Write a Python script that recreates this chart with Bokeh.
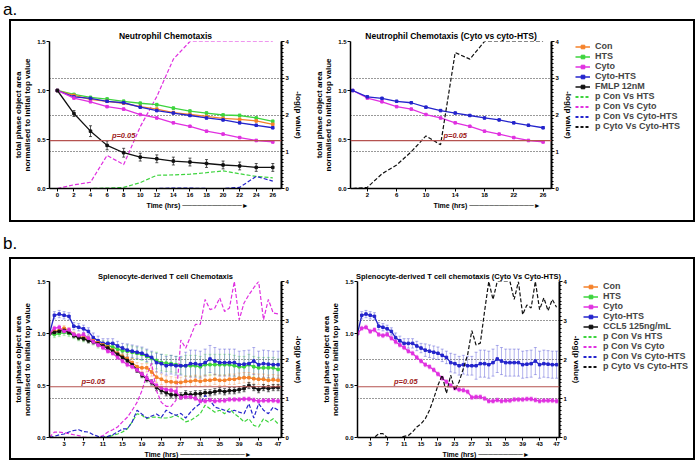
import math
from bokeh.plotting import figure
from bokeh.models import (Range1d, LinearAxis, FixedTicker, PrintfTickFormatter, Span, Label, Title,
                          Legend, LegendItem, ColumnDataSource, Whisker, TeeHead, Div)
from bokeh.layouts import row, column
from bokeh.embed import file_html
from bokeh.resources import INLINE

# ---------------- data ----------------
TIME_A = [0, 2, 4, 6, 8, 10, 12, 14, 16, 18, 20, 22, 24, 26]
A_CON = [1.00, 0.95, 0.91, 0.89, 0.87, 0.835, 0.81, 0.775, 0.755, 0.735, 0.715, 0.705, 0.69, 0.655]
A_HTS = [1.00, 0.96, 0.93, 0.913, 0.89, 0.87, 0.855, 0.82, 0.79, 0.77, 0.75, 0.745, 0.72, 0.685]
A_CYTO = [1.00, 0.923, 0.885, 0.835, 0.81, 0.755, 0.72, 0.67, 0.635, 0.585, 0.555, 0.52, 0.49, 0.475]
A_CYTOHTS = [1.00, 0.935, 0.92, 0.89, 0.875, 0.83, 0.795, 0.77, 0.745, 0.72, 0.70, 0.67, 0.645, 0.62]
A_FMLP = [1.00, 0.765, 0.585, 0.44, 0.365, 0.32, 0.303, 0.28, 0.27, 0.255, 0.24, 0.23, 0.215, 0.215]
A_CON_ERR = [0, 0.01, 0.01, 0.01, 0.01, 0.01, 0.012, 0.012, 0.012, 0.012, 0.012, 0.015, 0.015, 0.015]
A_HTS_ERR = [0, 0.01, 0.01, 0.015, 0.015, 0.015, 0.015, 0.015, 0.015, 0.015, 0.015, 0.015, 0.015, 0.015]
A_CYTO_ERR = [0, 0.01, 0.01, 0.01, 0.01, 0.01, 0.01, 0.01, 0.01, 0.01, 0.01, 0.01, 0.012, 0.012]
A_CYTOHTS_ERR = [0, 0.01, 0.01, 0.01, 0.01, 0.01, 0.01, 0.01, 0.01, 0.01, 0.01, 0.01, 0.012, 0.012]
A_FMLP_ERR = [0, 0.03, 0.055, 0.045, 0.045, 0.04, 0.04, 0.04, 0.04, 0.04, 0.04, 0.04, 0.04, 0.04]
A_P_CON_HTS = [0, 0, 0, 0.01, 0.03, 0.16, 0.36, 0.37, 0.39, 0.43, 0.48, 0.40, 0.33, 0.29]
A_P_CON_CYTO = [0, 0.1, 0.17, 0.9, 0.65, 1.68, 2.5, 3.52, 4.0, 4.0, 4.0, 4.0, 4.0, 4.0]
A_P_CON_CYTOHTS = [0, 0, 0, 0, 0, 0, 0, 0.01, 0.01, 0, 0, 0.03, 0.33, 0.2]
A_P_CYTO_CYTOHTS = [0, 0.03, 0.4, 0.64, 1.0, 1.43, 1.19, 3.7, 3.52, 4.0, 4.0, 4.0, 4.0, 4.0]

TIME_B = [0, 1, 2, 3, 4, 5, 6, 7, 8, 9, 10, 11, 12, 13, 14, 15, 16, 17, 18, 19, 20, 21, 22, 23,
          24, 25, 26, 27, 28, 29, 30, 31, 32, 33, 34, 35, 36, 37, 38, 39, 40, 41, 42, 43, 44, 45, 46, 47]
B_CON = [1.00, 1.02, 1.03, 1.05, 1.03, 0.99, 0.97, 0.96, 0.95, 0.93,
         0.91, 0.89, 0.87, 0.84, 0.81, 0.78, 0.76, 0.72, 0.68, 0.67,
         0.67, 0.63, 0.58, 0.56, 0.54, 0.535, 0.53, 0.53, 0.54, 0.54,
         0.55, 0.54, 0.55, 0.55, 0.56, 0.55, 0.55, 0.56, 0.56, 0.57,
         0.575, 0.575, 0.565, 0.56, 0.56, 0.55, 0.555, 0.55]
B_HTS = [1.00, 0.99, 1.00, 1.01, 1.00, 0.98, 0.96, 0.95, 0.94, 0.92,
         0.90, 0.89, 0.885, 0.87, 0.85, 0.835, 0.83, 0.82, 0.81, 0.80,
         0.78, 0.76, 0.74, 0.72, 0.715, 0.71, 0.70, 0.69, 0.69, 0.69,
         0.69, 0.68, 0.70, 0.70, 0.70, 0.70, 0.70, 0.70, 0.69, 0.68,
         0.68, 0.70, 0.68, 0.67, 0.67, 0.67, 0.67, 0.655]
B_CYTO = [1.00, 1.05, 1.06, 1.02, 1.035, 0.99, 0.98, 0.99, 0.955, 0.92,
          0.89, 0.865, 0.83, 0.81, 0.77, 0.735, 0.70, 0.68, 0.65, 0.61,
          0.57, 0.535, 0.50, 0.475, 0.46, 0.455, 0.44, 0.385, 0.39, 0.39,
          0.375, 0.35, 0.35, 0.36, 0.35, 0.355, 0.355, 0.365, 0.365, 0.365,
          0.37, 0.37, 0.36, 0.35, 0.355, 0.355, 0.355, 0.35]
B_CYTOHTS = [1.00, 1.175, 1.187, 1.175, 1.165, 1.07, 1.06, 1.045, 1.02, 0.96,
             0.93, 0.905, 0.905, 0.905, 0.88, 0.86, 0.84, 0.83, 0.82, 0.81,
             0.79, 0.77, 0.72, 0.71, 0.69, 0.70, 0.69, 0.69, 0.69, 0.71,
             0.71, 0.70, 0.72, 0.755, 0.735, 0.72, 0.72, 0.72, 0.72, 0.70,
             0.705, 0.71, 0.735, 0.70, 0.71, 0.705, 0.70, 0.70]
B_CCL5 = [1.00, 1.01, 1.02, 1.03, 1.01, 0.98, 0.96, 0.95, 0.93, 0.92,
          0.90, 0.88, 0.86, 0.83, 0.80, 0.77, 0.74, 0.70, 0.65, 0.60,
          0.56, 0.53, 0.48, 0.45, 0.43, 0.41, 0.41, 0.40, 0.42, 0.41,
          0.42, 0.42, 0.43, 0.43, 0.44, 0.45, 0.44, 0.45, 0.45, 0.46,
          0.47, 0.50, 0.48, 0.46, 0.48, 0.47, 0.48, 0.48]
B_CON_ERR = [0, 0.025, 0.025, 0.025, 0.025, 0.025, 0.025, 0.025, 0.025, 0.025,
             0.03, 0.03, 0.03, 0.03, 0.03, 0.03, 0.04, 0.04, 0.04, 0.04,
             0.04, 0.04, 0.05, 0.05, 0.05, 0.05, 0.05, 0.05, 0.05, 0.05,
             0.05, 0.05, 0.05, 0.05, 0.05, 0.05, 0.05, 0.05, 0.05, 0.05,
             0.05, 0.05, 0.05, 0.05, 0.05, 0.05, 0.05, 0.05]
B_HTS_ERR = [0, 0.03, 0.03, 0.03, 0.03, 0.03, 0.03, 0.03, 0.03, 0.03,
             0.04, 0.04, 0.04, 0.04, 0.04, 0.04, 0.06, 0.06, 0.06, 0.06,
             0.06, 0.06, 0.08, 0.08, 0.08, 0.08, 0.08, 0.08, 0.1, 0.1,
             0.1, 0.1, 0.1, 0.1, 0.1, 0.1, 0.1, 0.1, 0.1, 0.1,
             0.1, 0.1, 0.1, 0.1, 0.1, 0.1, 0.1, 0.1]
B_CYTOHTS_ERR = [0, 0.035, 0.035, 0.035, 0.035, 0.035, 0.035, 0.035, 0.035, 0.045,
                 0.045, 0.045, 0.045, 0.045, 0.045, 0.045, 0.06, 0.06, 0.06, 0.06,
                 0.06, 0.06, 0.09, 0.09, 0.09, 0.09, 0.09, 0.09, 0.13, 0.13,
                 0.13, 0.13, 0.13, 0.13, 0.13, 0.13, 0.13, 0.13, 0.13, 0.13,
                 0.13, 0.13, 0.13, 0.13, 0.13, 0.13, 0.13, 0.13]
B_CYTO_ERR = [0, 0.02, 0.02, 0.02, 0.02, 0.02, 0.02, 0.02, 0.02, 0.02,
              0.02, 0.02, 0.02, 0.02, 0.02, 0.02, 0.02, 0.02, 0.02, 0.02,
              0.02, 0.02, 0.02, 0.02, 0.02, 0.02, 0.02, 0.02, 0.02, 0.02,
              0.02, 0.02, 0.02, 0.02, 0.02, 0.02, 0.02, 0.02, 0.02, 0.02,
              0.02, 0.02, 0.02, 0.02, 0.02, 0.02, 0.02, 0.02]
B_CCL5_ERR = [0, 0.02, 0.02, 0.02, 0.02, 0.02, 0.02, 0.02, 0.02, 0.02,
              0.02, 0.02, 0.02, 0.02, 0.02, 0.02, 0.025, 0.025, 0.025, 0.025,
              0.025, 0.025, 0.03, 0.03, 0.03, 0.03, 0.03, 0.03, 0.03, 0.03,
              0.03, 0.03, 0.03, 0.03, 0.03, 0.03, 0.03, 0.03, 0.03, 0.03,
              0.03, 0.03, 0.03, 0.03, 0.03, 0.03, 0.03, 0.03]
B_P_CON_HTS = [0, 0, 0, 0, 0, 0, 0, 0, 0, 0,
               0, 0, 0.01, 0.05, 0.09, 0.14, 0.22, 0.4, 0.61, 0.57,
               0.48, 0.52, 0.52, 0.5, 0.5, 0.52, 0.57, 0.5, 0.4, 0.44,
               0.52, 0.61, 0.83, 0.74, 0.65, 0.7, 0.61, 0.74, 0.61, 0.52,
               0.4, 0.48, 0.31, 0.27, 0.48, 0.4, 0.48, 0.35]
B_P_CON_CYTO = [0, 0.14, 0.14, 0.12, 0.1, 0.07, 0.05, 0.01, 0, 0,
                0, 0.05, 0.14, 0.2, 0.27, 0.4, 0.52, 0.7, 0.9, 1.2,
                1.6, 1.9, 1.2, 0.9, 0.8, 0.8, 0.95, 2.5, 2.29, 2.59,
                2.9, 2.9, 3.54, 3.28, 3.32, 3.58, 3.23, 3.32, 4.0, 3.02,
                3.45, 3.66, 3.84, 4.0, 3.02, 3.54, 3.19, 3.17]
B_P_CON_CYTOHTS = [0, 0.03, 0.07, 0.09, 0.14, 0.18, 0.2, 0.15, 0.14, 0.07,
                   0.03, 0.01, 0.03, 0.07, 0.14, 0.22, 0.22, 0.4, 0.7, 0.6,
                   0.5, 0.55, 0.6, 0.52, 0.7, 0.62, 0.57, 0.62, 0.5, 0.65,
                   0.78, 0.87, 1.08, 0.95, 0.78, 0.74, 0.7, 0.65, 0.7, 0.65,
                   0.61, 0.87, 0.5, 0.87, 0.7, 0.61, 0.78, 0.7]
B_P_CYTO_CYTOHTS = [0, 0, 0, 0, 0, 0.1, 0.1, 0, 0, 0,
                    0, 0.03, 0.05, 0.14, 0.27, 0.35, 0.48, 0.7, 1.0, 1.34,
                    1.6, 1.13, 1.6, 1.21, 1.43, 1.77, 2.12, 2.74, 2.37, 2.42,
                    3.23, 4.0, 3.54, 4.0, 4.0, 4.0, 4.0, 3.54, 4.0, 3.15,
                    3.4, 3.32, 4.0, 3.28, 3.58, 3.25, 3.54, 3.34]

TICKS_A1 = [0, 2, 4, 6, 8, 10, 12, 14, 16, 18, 20, 22, 24, 26]
TICKS_A2 = [2, 6, 10, 14, 18, 22, 26]
TICKS_B = [3, 7, 11, 15, 19, 23, 27, 31, 35, 39, 43, 47]
LEFT_TICKS = [0, 0.5, 1.0, 1.5]
RIGHT_TICKS = [0, 1, 2, 3, 4]

LEGEND_A = ["Con", "HTS", "Cyto", "Cyto-HTS", "FMLP 12nM",
            "p Con Vs HTS", "p Con Vs Cyto", "p Con Vs Cyto-HTS", "p Cyto Vs Cyto-HTS"]
LEGEND_B = ["Con", "HTS", "Cyto", "Cyto-HTS", "CCL5 125ng/mL",
            "p Con Vs HTS", "p Con Vs Cyto", "p Con Vs Cyto-HTS", "p Cyto Vs Cyto-HTS"]

# ---------------- style ----------------
FONT = "Liberation Sans"
C_CON = "#f5822a"
C_HTS = "#3dd43d"
C_CYTO = "#e030e0"
C_CYTOHTS = "#2424cc"
C_BLACK = "#111111"
C_P = "#b5524f"
P_THRESHOLD = -math.log10(0.05)
Y_LABEL = "total phase object area\nnormalised to initial top value"
LEGEND_STYLES = [(C_CON, False), (C_HTS, False), (C_CYTO, False), (C_CYTOHTS, False), (C_BLACK, False),
                 (C_HTS, True), (C_CYTO, True), (C_CYTOHTS, True), (C_BLACK, True)]


def style_axis(ax, tick_size, label_size):
    ax.major_label_text_font = FONT
    ax.major_label_text_font_size = tick_size
    ax.major_label_text_font_style = "bold"
    ax.major_label_text_color = "black"
    ax.axis_label_text_font = FONT
    ax.axis_label_text_font_size = label_size
    ax.axis_label_text_font_style = "bold"
    ax.axis_label_text_color = "black"
    ax.axis_label_text_line_height = 1.0
    ax.axis_line_width = 1.5
    ax.major_tick_in = 0
    ax.major_tick_out = 3
    ax.minor_tick_line_color = None
    ax.major_label_standoff = 1
    ax.axis_label_standoff = 2


def make_fig(title, xr, xticks, width, height, borders, title_size, n_arrow, arrow_offset):
    left, right, top, bottom = borders
    p = figure(width=width, height=height, x_range=Range1d(*xr), y_range=Range1d(0, 1.5),
               output_backend="svg", toolbar_location=None, title=title,
               min_border_left=left, min_border_right=right,
               min_border_top=top, min_border_bottom=bottom)
    p.extra_y_ranges = {"p": Range1d(0, 4)}
    p.outline_line_color = None
    p.title.text_font = FONT
    p.title.text_font_size = title_size
    p.title.text_font_style = "bold"
    p.title.text_color = "black"
    p.title.align = "center"
    p.title.standoff = 1
    p.xgrid.visible = False
    p.ygrid.ticker = FixedTicker(ticks=[0.375, 0.75, 1.125, 1.5])
    p.ygrid.grid_line_color = "#333333"
    p.ygrid.grid_line_dash = "1 2"
    p.ygrid.grid_line_width = 1
    la = p.yaxis[0]
    la.ticker = FixedTicker(ticks=LEFT_TICKS)
    la.formatter = PrintfTickFormatter(format="%.1f")
    la.axis_label = Y_LABEL
    style_axis(la, "6px", "8px")
    ba = p.xaxis[0]
    ba.ticker = FixedTicker(ticks=xticks)
    style_axis(ba, "6px", "7px")
    # x-axis label with its arrow
    p.add_layout(Title(text="Time (hrs) " + "\u2500" * n_arrow + "\u25BA", align="left",
                       offset=arrow_offset, standoff=1, text_font=FONT, text_font_size="7px",
                       text_font_style="bold", text_color="black"), "below")
    ra = LinearAxis(y_range_name="p", axis_label="-log(p value)")
    ra.ticker = FixedTicker(ticks=RIGHT_TICKS, minor_ticks=[i * 0.1 for i in range(41)])
    style_axis(ra, "6px", "8px")
    ra.axis_line_width = 2
    ra.minor_tick_line_color = "black"
    ra.minor_tick_in = 0
    ra.minor_tick_out = 2
    p.add_layout(ra, "right")
    p.add_layout(Span(location=P_THRESHOLD, dimension="width", y_range_name="p",
                      line_color=C_P, line_width=1.2))
    return p


def add_series(p, x, y, err, color, err_alpha=0.45):
    src = ColumnDataSource(dict(x=x, lo=[v - e for v, e in zip(y, err)],
                                hi=[v + e for v, e in zip(y, err)]))
    p.add_layout(Whisker(base="x", lower="lo", upper="hi", source=src, line_color=color,
                         line_alpha=err_alpha, line_width=1,
                         upper_head=TeeHead(size=3, line_color=color, line_alpha=err_alpha),
                         lower_head=TeeHead(size=3, line_color=color, line_alpha=err_alpha)))
    p.line(x, y, line_color=color, line_width=1.3)
    p.scatter(x, y, marker="square", size=2.5, color=color)


def add_p(p, x, y, color):
    p.line(x, y, y_range_name="p", line_color=color, line_dash="4 2", line_width=1.2)


def p_label(p, x):
    p.add_layout(Label(x=x, y=P_THRESHOLD, y_range_name="p", text="p=0.05", text_font=FONT,
                       text_font_size="7.5px", text_font_style="bold italic", text_color="#9e1b1b",
                       text_align="center", y_offset=1))


def legend_fig(width, height, top, labels, x, series):
    # legend-only figure: its renderers hold the real series but are hidden,
    # so only the legend entries show
    p = figure(width=width, height=height, x_range=Range1d(0, 1), y_range=Range1d(0, 1),
               output_backend="svg", toolbar_location=None, min_border=0, min_border_top=top,
               x_axis_location=None, y_axis_location=None)
    p.grid.visible = False
    p.outline_line_color = None
    items = []
    for label, (color, dashed), y in zip(labels, LEGEND_STYLES, series):
        if dashed:
            rs = [p.line(x, y, line_color=color, line_dash="3 2", line_width=2, visible=False)]
        else:
            rs = [p.line(x, y, line_color=color, line_width=1.5, visible=False),
                  p.scatter(x, y, marker="square", size=3, color=color, visible=False)]
        items.append(LegendItem(label=label, renderers=rs))
    leg = Legend(items=items, location="top_left", label_text_font=FONT,
                 label_text_font_size="9px", label_text_font_style="bold",
                 label_height=9, glyph_height=9, glyph_width=15, spacing=0,
                 padding=2, margin=0, border_line_color=None, background_fill_alpha=0,
                 inactive_fill_alpha=0, label_standoff=5)
    p.add_layout(leg)
    return p


# ---------------- panel a ----------------
a1 = make_fig("Neutrophil Chemotaxis", (-0.95, 27.05), TICKS_A1, 294, 199, (34, 23, 12, 32), "8.5px", 12, 97)
add_p(a1, TIME_A, A_P_CON_HTS, C_HTS)
add_p(a1, TIME_A, A_P_CON_CYTO, C_CYTO)
add_p(a1, TIME_A, A_P_CON_CYTOHTS, C_CYTOHTS)
add_series(a1, TIME_A, A_HTS, A_HTS_ERR, C_HTS)
add_series(a1, TIME_A, A_CON, A_CON_ERR, C_CON)
add_series(a1, TIME_A, A_CYTOHTS, A_CYTOHTS_ERR, C_CYTOHTS)
add_series(a1, TIME_A, A_CYTO, A_CYTO_ERR, C_CYTO)
add_series(a1, TIME_A, A_FMLP, A_FMLP_ERR, C_BLACK, err_alpha=0.7)
p_label(a1, 8)

a2 = make_fig("Neutrophil Chemotaxis (Cyto vs cyto-HTS)", (-0.3, 27.15), TICKS_A2, 270, 199,
              (45, 19, 12, 32), "8.5px", 13, 83)
add_series(a2, TIME_A, A_CYTO, A_CYTO_ERR, C_CYTO)
add_series(a2, TIME_A, A_CYTOHTS, A_CYTOHTS_ERR, C_CYTOHTS)
add_p(a2, TIME_A, A_P_CYTO_CYTOHTS, C_BLACK)
p_label(a2, 14)
la_fig = legend_fig(118, 199, 20, LEGEND_A, TIME_A,
                    [A_CON, A_HTS, A_CYTO, A_CYTOHTS, A_FMLP,
                     A_P_CON_HTS, A_P_CON_CYTO, A_P_CON_CYTOHTS, A_P_CYTO_CYTOHTS])

# ---------------- panel b ----------------
b1 = make_fig("Splenocyte-derived T cell Chemotaxis", (0, 47.7), TICKS_B, 294, 199, (36, 19, 22, 21), "7.5px", 13, 95)
add_p(b1, TIME_B, B_P_CON_HTS, C_HTS)
add_p(b1, TIME_B, B_P_CON_CYTO, C_CYTO)
add_p(b1, TIME_B, B_P_CON_CYTOHTS, C_CYTOHTS)
add_series(b1, TIME_B, B_HTS, B_HTS_ERR, C_HTS, err_alpha=0.35)
add_series(b1, TIME_B, B_CYTOHTS, B_CYTOHTS_ERR, C_CYTOHTS, err_alpha=0.35)
add_series(b1, TIME_B, B_CON, B_CON_ERR, C_CON, err_alpha=0.35)
add_series(b1, TIME_B, B_CCL5, B_CCL5_ERR, C_BLACK, err_alpha=0.6)
add_series(b1, TIME_B, B_CYTO, B_CYTO_ERR, C_CYTO, err_alpha=0.35)
p_label(b1, 9)

b2 = make_fig("Splenocyte-derived T cell chemotaxis (Cyto Vs Cyto-HTS)", (0, 47.7), TICKS_B, 278, 199,
              (52, 15, 22, 21), "7.5px", 9, 85)
add_series(b2, TIME_B, B_CYTOHTS, B_CYTOHTS_ERR, C_CYTOHTS, err_alpha=0.35)
add_series(b2, TIME_B, B_CYTO, B_CYTO_ERR, C_CYTO, err_alpha=0.35)
add_p(b2, TIME_B, B_P_CYTO_CYTOHTS, C_BLACK)
p_label(b2, 11.4)
lb_fig = legend_fig(110, 199, 22, LEGEND_B, TIME_B,
                    [B_CON, B_HTS, B_CYTO, B_CYTOHTS, B_CCL5,
                     B_P_CON_HTS, B_P_CON_CYTO, B_P_CON_CYTOHTS, B_P_CYTO_CYTOHTS])

# ---------------- layout ----------------
div_a = Div(text="<div style=\"font-family:'Liberation Sans';font-size:17px;line-height:19px;margin-left:3px\">a.</div>",
            width=60, height=19, margin=(0, 0, 0, 0))
div_b = Div(text="<div style=\"font-family:'Liberation Sans';font-size:17px;line-height:19px;margin-left:3px;padding-top:12px\">b.</div>",
            width=60, height=35, margin=(0, 0, 0, 0))
row_a = row(a1, a2, la_fig, margin=(0, 0, 0, 9), styles={"border": "2px solid black"})
row_b = row(b1, b2, lb_fig, margin=(0, 0, 0, 9), styles={"border": "2px solid black"})
layout = column(div_a, row_a, div_b, row_b)

open("out.html", "w").write(file_html(layout, INLINE))
